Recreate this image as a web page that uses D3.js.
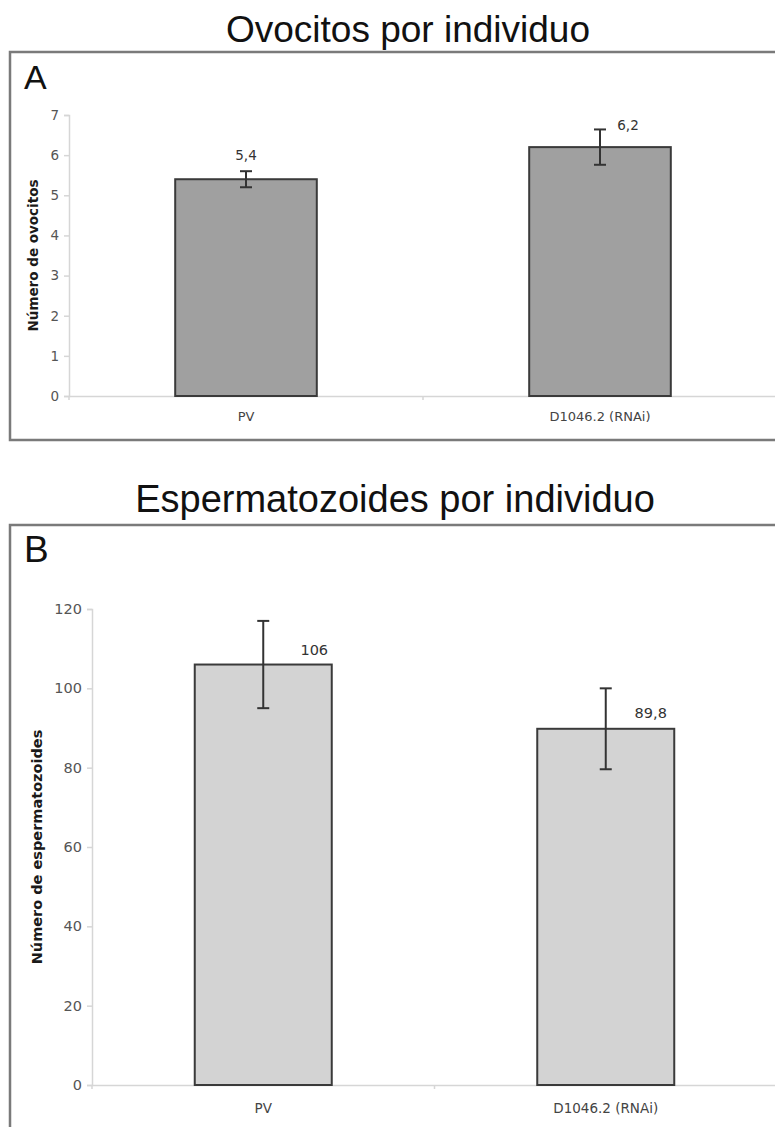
<!DOCTYPE html>
<html>
<head>
<meta charset="utf-8">
<script src="https://cdn.jsdelivr.net/npm/d3@7"></script>
<style>
    body { margin: 0; background: #fff; }
    svg { display: block; }
    .tickLabel { font-family: "DejaVu Sans", Verdana, sans-serif; fill: #555; }
    .valueLabel { font-family: "DejaVu Sans", Verdana, sans-serif; fill: #333; }
    .catLabel { font-family: "DejaVu Sans", Verdana, sans-serif; fill: #444; }
    .yTitle { font-family: "DejaVu Sans", Verdana, sans-serif; font-weight: bold; fill: #1a1a1a; }
    .panelTitle, .panelLetter { font-family: "Liberation Sans", Arial, sans-serif; fill: #111; }
</style>
</head>
<body>
<div id="chart"></div>
<script>
// categories shared by both panels
const categories = ["PV", "D1046.2 (RNAi)"];

// A - oocytes per individual
const ovocitosMedia = [5.4, 6.2];
const ovocitosError = [0.2, 0.44];
const ovocitosTicks = [0, 1, 2, 3, 4, 5, 6, 7];

// B - sperm per individual
const espermMedia = [106, 89.8];
const espermError = [11, 10.2];
const espermTicks = [0, 20, 40, 60, 80, 100, 120];

const width = 775, height = 1127;

let svg = d3.select("#chart").append("svg")
    .attr("width", width)
    .attr("height", height);

function drawPanel(cfg) {
    let g = svg.append("g");

    // title above the frame
    g.append("text")
        .classed("panelTitle", true)
        .attr("x", cfg.titleX)
        .attr("y", cfg.titleY)
        .attr("text-anchor", "middle")
        .style("font-size", cfg.titleSize + "px")
        .text(cfg.title);

    // frame, cropped on the right (and bottom for B)
    g.append("path")
        .attr("d", `M${width + 5},${cfg.frameTop} H10 V${cfg.frameBottom}` +
            (cfg.frameBottom < height ? ` H${width + 5}` : ""))
        .attr("fill", "none")
        .attr("stroke", "#7a7a7a")
        .attr("stroke-width", 2.5);

    g.append("text")
        .classed("panelLetter", true)
        .attr("x", 24)
        .attr("y", cfg.letterY)
        .style("font-size", cfg.letterSize + "px")
        .text(cfg.letter);

    let x = d3.scaleBand()
        .domain(categories)
        .range([cfg.left, cfg.right])
        .paddingInner(0.6)
        .paddingOuter(0.3);

    let y = d3.scaleLinear()
        .domain([0, d3.max(cfg.ticks)])
        .range([cfg.bottom, cfg.top]);

    // y axis
    let yAxis = g.append("g")
        .attr("transform", `translate(${cfg.left},0)`)
        .call(d3.axisLeft(y).tickValues(cfg.ticks).tickSize(5).tickPadding(5).tickFormat(d3.format("d")));
    yAxis.select(".domain").attr("stroke", "#d6d6d6").attr("stroke-width", 1.5);
    yAxis.selectAll(".tick line").attr("stroke", "#d6d6d6").attr("stroke-width", 1.5);
    yAxis.selectAll(".tick text")
        .attr("class", "tickLabel")
        .style("font-size", cfg.tickSize + "px");

    // x axis
    let xAxis = g.append("g")
        .attr("transform", `translate(0,${cfg.bottom})`)
        .call(d3.axisBottom(x).tickSize(0).tickPadding(cfg.catPad));
    xAxis.select(".domain").attr("stroke", "#d6d6d6").attr("stroke-width", 1.5);
    xAxis.selectAll(".tick text")
        .attr("class", "catLabel")
        .style("font-size", cfg.catSize + "px");

    // category boundary ticks
    g.selectAll(".boundary")
        .data(d3.range(categories.length + 1))
        .enter()
        .append("line")
        .attr("x1", i => cfg.left + i * x.step())
        .attr("x2", i => cfg.left + i * x.step())
        .attr("y1", cfg.bottom)
        .attr("y2", cfg.bottom + 4)
        .attr("stroke", "#d6d6d6")
        .attr("stroke-width", 1.5);

    let rows = categories.map((c, i) => ({cat: c, v: cfg.values[i], e: cfg.errors[i], i: i}));

    // bars
    g.selectAll(".bar")
        .data(rows)
        .enter()
        .append("rect")
        .attr("x", d => x(d.cat))
        .attr("y", d => y(d.v))
        .attr("width", x.bandwidth())
        .attr("height", d => y(0) - y(d.v))
        .attr("fill", cfg.fill)
        .attr("stroke", "#3a3a3a")
        .attr("stroke-width", 2);

    // error bars
    let cx = d => x(d.cat) + x.bandwidth() / 2;
    let err = g.selectAll(".err")
        .data(rows)
        .enter()
        .append("g")
        .attr("stroke", "#333")
        .attr("stroke-width", 2);
    err.append("line")
        .attr("x1", cx).attr("x2", cx)
        .attr("y1", d => y(d.v + d.e))
        .attr("y2", d => y(d.v - d.e));
    err.append("line")
        .attr("x1", d => cx(d) - 6).attr("x2", d => cx(d) + 6)
        .attr("y1", d => y(d.v + d.e))
        .attr("y2", d => y(d.v + d.e));
    err.append("line")
        .attr("x1", d => cx(d) - 6).attr("x2", d => cx(d) + 6)
        .attr("y1", d => y(d.v - d.e))
        .attr("y2", d => y(d.v - d.e));

    // value labels (Excel style, comma decimal)
    g.selectAll(".val")
        .data(rows)
        .enter()
        .append("text")
        .classed("valueLabel", true)
        .attr("x", d => cx(d) + cfg.labelDx[d.i])
        .attr("y", d => y(d.v) - cfg.labelDy[d.i])
        .attr("text-anchor", "middle")
        .style("font-size", cfg.valueSize + "px")
        .text(d => String(d.v).replace(".", ","));

    // y axis title
    g.append("text")
        .classed("yTitle", true)
        .attr("transform", `translate(${cfg.yTitleX},${(cfg.top + cfg.bottom) / 2}) rotate(-90)`)
        .attr("text-anchor", "middle")
        .style("font-size", cfg.yTitleSize + "px")
        .text(cfg.yTitle);
}

drawPanel({
    title: "Ovocitos por individuo", titleX: 408, titleY: 42, titleSize: 37,
    letter: "A", letterY: 89, letterSize: 34,
    frameTop: 52, frameBottom: 440,
    left: 69, right: 777, top: 115, bottom: 396,
    ticks: ovocitosTicks, values: ovocitosMedia, errors: ovocitosError,
    fill: "#a0a0a0",
    labelDx: [0, 28], labelDy: [19, 17],
    tickSize: 13.5, catSize: 13, catPad: 16, valueSize: 13.5,
    yTitle: "Número de ovocitos", yTitleX: 38, yTitleSize: 13.5
});

drawPanel({
    title: "Espermatozoides por individuo", titleX: 395, titleY: 512, titleSize: 38,
    letter: "B", letterY: 562, letterSize: 37,
    frameTop: 525, frameBottom: height + 10,
    left: 92, right: 777, top: 609, bottom: 1085,
    ticks: espermTicks, values: espermMedia, errors: espermError,
    fill: "#d3d3d3",
    labelDx: [51, 45], labelDy: [10, 11],
    tickSize: 14.5, catSize: 13.5, catPad: 18, valueSize: 14.5,
    yTitle: "Número de espermatozoides", yTitleX: 42, yTitleSize: 14.5
});
</script>
</body>
</html>
